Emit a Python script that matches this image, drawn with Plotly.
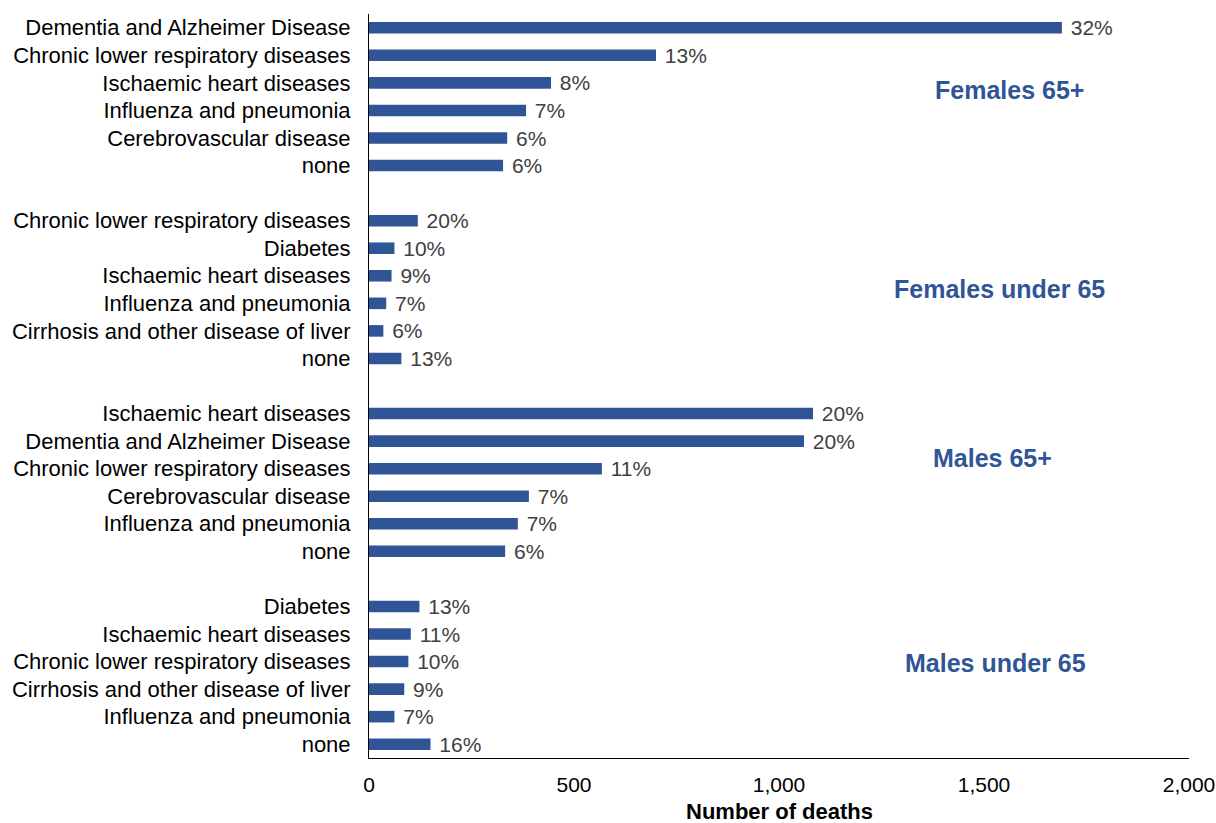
import plotly.graph_objects as go

groups = ["Females 65+", "Females under 65", "Males 65+", "Males under 65"]

f65_causes = ["Dementia and Alzheimer Disease", "Chronic lower respiratory diseases",
              "Ischaemic heart diseases", "Influenza and pneumonia",
              "Cerebrovascular disease", "none"]
f65_deaths = [1690, 700, 444, 383, 337, 327]
f65_pct = ["32%", "13%", "8%", "7%", "6%", "6%"]

fu65_causes = ["Chronic lower respiratory diseases", "Diabetes", "Ischaemic heart diseases",
               "Influenza and pneumonia", "Cirrhosis and other disease of liver", "none"]
fu65_deaths = [119, 62, 55, 42, 35, 79]
fu65_pct = ["20%", "10%", "9%", "7%", "6%", "13%"]

m65_causes = ["Ischaemic heart diseases", "Dementia and Alzheimer Disease",
              "Chronic lower respiratory diseases", "Cerebrovascular disease",
              "Influenza and pneumonia", "none"]
m65_deaths = [1083, 1061, 568, 390, 363, 332]
m65_pct = ["20%", "20%", "11%", "7%", "7%", "6%"]

mu65_causes = ["Diabetes", "Ischaemic heart diseases", "Chronic lower respiratory diseases",
               "Cirrhosis and other disease of liver", "Influenza and pneumonia", "none"]
mu65_deaths = [123, 102, 96, 86, 62, 150]
mu65_pct = ["13%", "11%", "10%", "9%", "7%", "16%"]

all_causes = [f65_causes, fu65_causes, m65_causes, mu65_causes]
all_deaths = [f65_deaths, fu65_deaths, m65_deaths, mu65_deaths]
all_pct = [f65_pct, fu65_pct, m65_pct, mu65_pct]

BLUE = "#2F5597"
FONT = "Liberation Sans, Arial, sans-serif"

ys, xs, texts, labels = [], [], [], []
for g, (causes, deaths, pcts) in enumerate(zip(all_causes, all_deaths, all_pct)):
    for j, (c, d, p) in enumerate(zip(causes, deaths, pcts)):
        ys.append(g * 7 + j)
        xs.append(d)
        texts.append(" " + p)
        labels.append(c)

fig = go.Figure()
fig.add_trace(go.Bar(
    x=xs, y=ys, orientation="h", width=0.42,
    marker=dict(color=BLUE, line=dict(width=0)),
    text=texts, textposition="outside", cliponaxis=False, constraintext="none",
    textfont=dict(family=FONT, size=21, color="#404040"),
    hoverinfo="x+y",
))

# group label placement (layout constants)
label_pos = [(1563, 2.25), (1539, 9.48), (1520, 15.6), (1529, 23.06)]
for name, (lx, ly) in zip(groups, label_pos):
    fig.add_annotation(x=lx, y=ly, xref="x", yref="y", text="<b>" + name + "</b>",
                       showarrow=False, font=dict(family=FONT, size=25, color=BLUE))

# x-axis title as annotation
fig.add_annotation(x=0.5, y=-0.072, xref="paper", yref="paper", yanchor="middle",
                   text="<b>Number of deaths</b>", showarrow=False,
                   font=dict(family=FONT, size=22, color="#000000"))

fig.update_layout(
    width=1216, height=823,
    margin=dict(l=369, r=27, t=14, b=65, autoexpand=False),
    plot_bgcolor="white", paper_bgcolor="white",
    showlegend=False,
    font=dict(family=FONT, color="#000000"),
)
fig.update_xaxes(
    range=[0, 2000], tickvals=[0, 500, 1000, 1500, 2000],
    ticktext=["0", "500", "1,000", "1,500", "2,000"],
    showgrid=False, zeroline=False, showline=True, linecolor="#000000", linewidth=1,
    ticks="", ticklabelstandoff=8, automargin=False,
    tickfont=dict(family=FONT, size=21, color="#000000"),
)
fig.update_yaxes(
    range=[26.5, -0.5], tickvals=ys, ticktext=labels,
    showgrid=False, zeroline=False, showline=True, linecolor="#000000", linewidth=1,
    ticks="", ticklabelstandoff=13, automargin=False,
    tickfont=dict(family=FONT, size=22, color="#000000"),
)

fig.write_html("out.html", config={"displayModeBar": False},
               post_script="document.body.style.margin='0';")
